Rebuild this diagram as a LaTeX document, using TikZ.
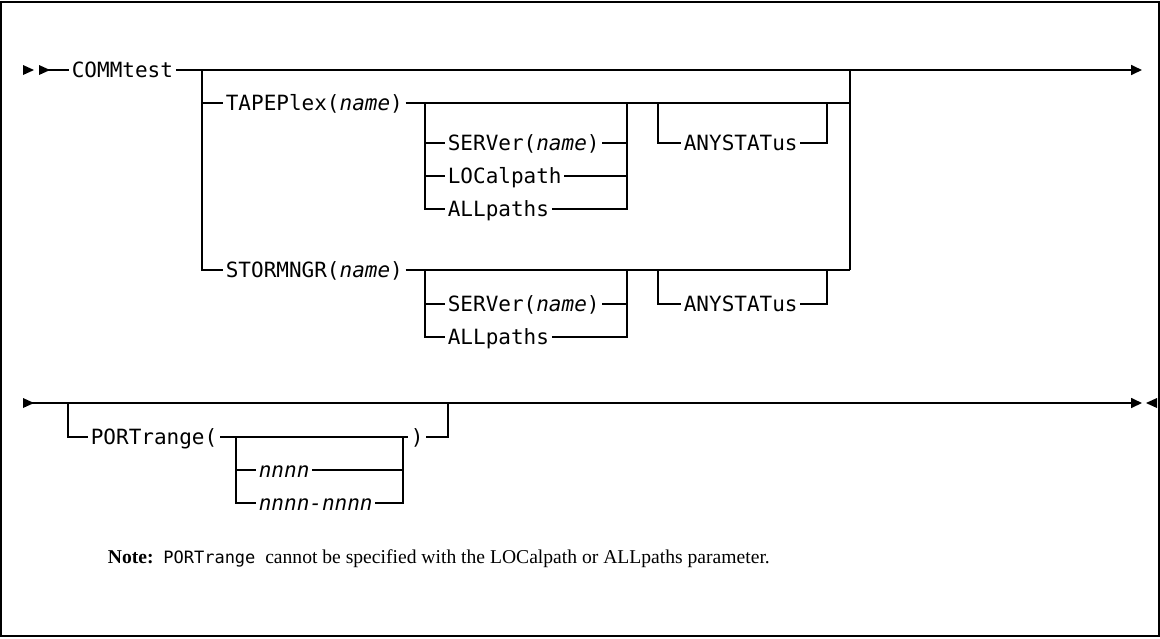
\documentclass[tikz,border=0pt]{standalone}
\usepackage{fontspec}
\setmainfont{Liberation Serif}
\newfontfamily\synfont{DejaVu Sans Mono}
\usetikzlibrary{arrows.meta}
\newcommand{\syn}{\synfont\fontsize{21}{21}\selectfont}
\newcommand{\nm}[1]{\textit{#1}}
\begin{document}
\begin{tikzpicture}[x=1pt,y=-1pt,line width=1.7pt,every node/.style={anchor=west,inner xsep=2pt,inner ysep=0pt,text height=15.3pt,text depth=0pt,font=\syn}]
	\useasboundingbox (0,0) rectangle (1160,638);
	\draw[line width=2pt] (1,2) rectangle (1159,636);
	% first line
	\coordinate (s0) at (23,70);
	\coordinate (s1) at (39,70);
	\coordinate (j1) at (202,70);
	\coordinate (j2) at (850,70);
	\coordinate (e1) at (1142,70);
	\coordinate (b1) at (850,103);
	\coordinate (b2) at (850,270);
	\node (com) at (69,70){COMMtest};
	\node (tap) at (223,103){TAPEPlex(\nm{name})};
	\node (sto) at (223,270){STORMNGR(\nm{name})};
	\fill (s0)--++(0,-5)--++(11,5)--++(-11,5)--cycle;
	\fill (s1)--++(0,-5)--++(11,5)--++(-11,5)--cycle;
	\draw (s1)--(com.west);
	\draw[-{Triangle[length=11pt,width=10pt]}] (com.east)--(e1);
	\draw (j1)|-(sto.west);
	\draw (j1)|-(tap.west);
	\draw (j2)--(b2);
	% TAPEPlex branch
	\coordinate (k1) at (425,103);
	\coordinate (k2) at (627,103);
	\coordinate (k3) at (658,103);
	\coordinate (k4) at (827,103);
	\node (ser) at (445,143){SERVer(\nm{name})};
	\node (loc) at (445,176){LOCalpath};
	\node (alp) at (445,209){ALLpaths};
	\node (any) at (681,143){ANYSTATus};
	\draw (tap.east)--(b1);
	\draw (k1)|-(alp.west);
	\draw (k1)|-(ser.west);
	\draw (k1)|-(loc.west);
	\draw (ser.east)-|(k2);
	\draw (loc.east)-|(k2);
	\draw (alp.east)-|(k2);
	\draw (k3)|-(any.west);
	\draw (any.east)-|(k4);
	% STORMNGR branch
	\coordinate (m1) at (425,270);
	\coordinate (m2) at (627,270);
	\coordinate (m3) at (658,270);
	\coordinate (m4) at (827,270);
	\node (ser2) at (445,304){SERVer(\nm{name})};
	\node (alp2) at (445,337){ALLpaths};
	\node (any2) at (681,304){ANYSTATus};
	\draw (sto.east)--(b2);
	\draw (m1)|-(alp2.west);
	\draw (m1)|-(ser2.west);
	\draw (ser2.east)-|(m2);
	\draw (alp2.east)-|(m2);
	\draw (m3)|-(any2.west);
	\draw (any2.east)-|(m4);
	% second line
	\coordinate (r0) at (23,403);
	\coordinate (r1) at (68,403);
	\coordinate (r2) at (448,403);
	\coordinate (r3) at (1142,403);
	\coordinate (r4) at (1157,403);
	\coordinate (p1) at (236,437);
	\coordinate (p2) at (403,437);
	\node (por) at (88,437){PORTrange(};
	\node (rp) at (408,437){)};
	\node (nn1) at (256,470){\nm{nnnn}};
	\node (nn2) at (256,503){\nm{nnnn-nnnn}};
	\fill (r0)--++(0,-5)--++(11,5)--++(-11,5)--cycle;
	\draw[-{Triangle[length=11pt,width=10pt]}] (r0)--(r3);
	\fill (r4)--++(0,-5)--++(-11,5)--++(11,5)--cycle;
	\draw (r1)|-(por.west);
	\draw (por.east)--(rp.west);
	\draw (rp.east)-|(r2);
	\draw (p1)|-(nn2.west);
	\draw (p1)|-(nn1.west);
	\draw (nn1.east)-|(p2);
	\draw (nn2.east)-|(p2);
	% \draw (p2)--(rp.west);
	\node[font=\fontsize{19.6}{19.6}\selectfont,text height=12pt] (note) at (105,557){\textbf{Note:}\ \ {\synfont\fontsize{17}{17}\selectfont PORTrange}\ \ cannot be specified with the LOCalpath or ALLpaths parameter.};
\end{tikzpicture}
\end{document}
